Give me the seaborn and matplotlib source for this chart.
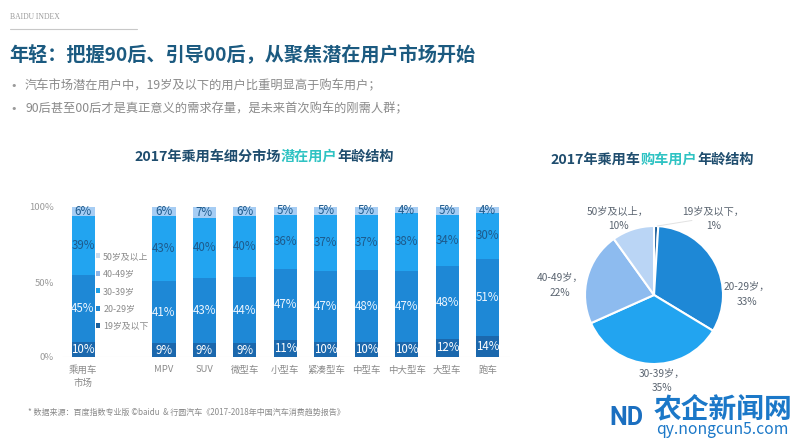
import matplotlib
matplotlib.use("Agg")
import matplotlib.pyplot as plt
import seaborn as sns
import numpy as np
import pandas as pd
from matplotlib.patches import Patch

# ---------------- data ----------------
categories = ["乘用车\n市场", "MPV", "SUV", "微型车", "小型车", "紧凑型车", "中型车", "中大型车", "大型车", "跑车"]
age_19_below = [10, 9, 9, 9, 11, 10, 10, 10, 12, 14]
age_20_29 = [45, 41, 43, 44, 47, 47, 48, 47, 48, 51]
age_30_39 = [39, 43, 40, 40, 36, 37, 37, 38, 34, 30]
age_40_plus = [6, 6, 7, 6, 5, 5, 5, 4, 5, 4]
legend_labels = ["50岁及以上", "40-49岁", "30-39岁", "20-29岁", "19岁及以下"]
y_tick_labels = ["0%", "50%", "100%"]

pie_labels = ["19岁及以下", "20-29岁", "30-39岁", "40-49岁", "50岁及以上"]
pie_values = [1, 33, 35, 22, 10]

# ---------------- style ----------------
sns.set_theme(style="white")
plt.rcParams['font.family'] = ['Noto Sans CJK SC', 'DejaVu Sans']

W, H = 800, 445
fig = plt.figure(figsize=(8, 4.45), dpi=100)
fig.patch.set_facecolor("white")

def fx(px):
    return px / W

def fy(py):
    return 1 - py / H

seg_colors = ["#1b68ad", "#1e88d6", "#22a4f0", "#a6cdf4"]
legend_colors = ["#c9dbee", "#8fb6e6", "#20a0e6", "#1e86d2", "#1b5f9c"]
pie_colors = ["#1b5f9c", "#1e88d6", "#22a4f0", "#8dbbef", "#bad5f5"]
label_colors = ["white", "#eef6ff", "#1d5a8c", "#1d5a8c"]

# ---------------- header ----------------
fig.text(fx(10), fy(17), "BAIDU INDEX", family="Liberation Serif", fontsize=5.5,
         color="#9a9a9a", va="center", ha="left")
fig.add_artist(plt.Line2D([fx(10), fx(137)], [fy(29), fy(29)], color="#c8c8c8", lw=0.8))
fig.text(fx(9), fy(55), "年轻：把握90后、引导00后，从聚焦潜在用户市场开始", fontsize=13.8,
         weight="bold", color="#1b5a80", va="center", ha="left")
bullets = ["汽车市场潜在用户中，19岁及以下的用户比重明显高于购车用户；",
           "90后甚至00后才是真正意义的需求存量，是未来首次购车的刚需人群；"]
for i, b in enumerate(bullets):
    yy = 86 + 23 * i
    fig.text(fx(10), fy(yy), "•", family="DejaVu Sans", fontsize=8, color="#9a9a9a",
             va="center", ha="left")
    fig.text(fx(25), fy(yy), b, fontsize=8.8, color="#8a8a8a", va="center", ha="left")

renderer = fig.canvas.get_renderer()

def rich_title(cx_px, cy_px, parts, size=10.2):
    texts = []
    for txt, col in parts:
        t = fig.text(0, fy(cy_px), txt, fontsize=size, weight="bold", color=col,
                     va="center", ha="left")
        texts.append(t)
    widths = [t.get_window_extent(renderer).width for t in texts]
    x = cx_px - sum(widths) / 2
    for t, w in zip(texts, widths):
        t.set_x(fx(x))
        x += w

rich_title(264, 157, [("2017年乘用车细分市场", "#1f4d6e"), ("潜在用户", "#2fc3c3"), ("年龄结构", "#1f4d6e")])
rich_title(652, 160, [("2017年乘用车", "#1f4d6e"), ("购车用户", "#2fc3c3"), ("年龄结构", "#1f4d6e")])

# ---------------- stacked bars ----------------
positions = [0, 2, 3, 4, 5, 6, 7, 8, 9, 10]
df = pd.DataFrame({
    "pos": positions,
    "cat": categories,
    "a19": age_19_below,
    "a20": age_20_29,
    "a30": age_30_39,
    "a40": age_40_plus,
})
series = ["a19", "a20", "a30", "a40"]
total = df[series].sum(axis=1)
for s in series:
    df[s + "_n"] = df[s] / total
cum = df[[s + "_n" for s in series]].cumsum(axis=1)
for i, s in enumerate(series):
    df["cum" + str(i)] = cum.iloc[:, i]

ax_left_px, ax_right_px = 62, 510
ax_top_px, ax_bot_px = 207, 357
ax = fig.add_axes([fx(ax_left_px), fy(ax_bot_px), fx(ax_right_px - ax_left_px), (ax_bot_px - ax_top_px) / H])
bar_w = 0.57
for i in reversed(range(len(series))):
    sns.barplot(data=df, x="pos", y="cum" + str(i), native_scale=True, width=bar_w,
                color=seg_colors[i], saturation=1, errorbar=None, ax=ax,
                edgecolor="none", linewidth=0)

for r in range(len(df)):
    bottom = 0.0
    for i, s in enumerate(series):
        h = df.loc[r, s + "_n"]
        ax.text(df.loc[r, "pos"], bottom + h / 2, f"{df.loc[r, s]}%", ha="center", va="center",
                fontsize=8.3, color=label_colors[i])
        bottom += h

ax.set_xlim(-0.52, 10.55)
ax.set_ylim(0, 1)
ax.set_yticks([0, 0.5, 1.0], y_tick_labels)
ax.set_xticks(positions, categories)
ax.tick_params(axis="y", labelsize=6.8, labelcolor="#9a9a9a", length=0, pad=6)
ax.tick_params(axis="x", labelsize=6.8, labelcolor="#8a8a8a", length=0, pad=6)
for lab in ax.get_xticklabels():
    lab.set_linespacing(1.5)
ax.set_xlabel("")
ax.set_ylabel("")
for sp in ax.spines.values():
    sp.set_visible(False)
ax.axhline(0, color="#ececec", lw=0.8, zorder=0)
ax.set_facecolor("none")

handles = [Patch(facecolor=c, edgecolor="none") for c in legend_colors]
leg = ax.legend(handles, legend_labels, loc="upper left", bbox_to_anchor=(0.076, 0.7),
                frameon=False, fontsize=6.4, handlelength=0.5, handleheight=0.5,
                handletextpad=0.3, labelspacing=0.95, borderaxespad=0, borderpad=0)
for t in leg.get_texts():
    t.set_color("#8a8a8a")

# ---------------- pie ----------------
cx, cy, r_px = 654, 295, 69
side = 240
lim = side / 2 / r_px
axp = fig.add_axes([fx(cx - side / 2), fy(cy + side / 2), side / W, side / H])
wedges, _ = axp.pie(pie_values, colors=pie_colors, startangle=90, counterclock=False,
                    wedgeprops=dict(edgecolor="white", linewidth=1.5))
axp.set_xlim(-lim, lim)
axp.set_ylim(-lim, lim)
axp.set_aspect("equal")
axp.axis("off")

label_pos = [(0.86, 1.10), (1.35, 0.01), (0.12, -1.25), (-1.36, 0.14), (-0.52, 1.10)]
for lab, v, (lx, ly) in zip(pie_labels, pie_values, label_pos):
    axp.text(lx, ly, f"{lab}，\n{v}%", ha="center", va="center", fontsize=7.3,
             color="#5a6470", linespacing=1.55)
axp.plot([0.05, 0.55], [1.0, 1.08], color="#e2e2e2", lw=0.7)

# ---------------- footer ----------------
fig.text(fx(28), fy(412), "* 数据来源：百度指数专业版 ©baidu  & 行圆汽车《2017-2018年中国汽车消费趋势报告》",
         fontsize=5.8, color="#8a8a8a", va="center", ha="left")
fig.text(fx(609), fy(418), "ND", family="Roboto", fontsize=18, weight="bold",
         color="#1b6fc0", va="center", ha="left")
fig.text(fx(654), fy(409), "农企新闻网", fontsize=20, weight="bold", color="#1b78c8",
         va="center", ha="left")
fig.text(fx(656), fy(430), "qy.nongcun5.com", fontsize=11.3, color="#1b78c8",
         va="center", ha="left")

fig.savefig("out.png", dpi=100, facecolor="white")
